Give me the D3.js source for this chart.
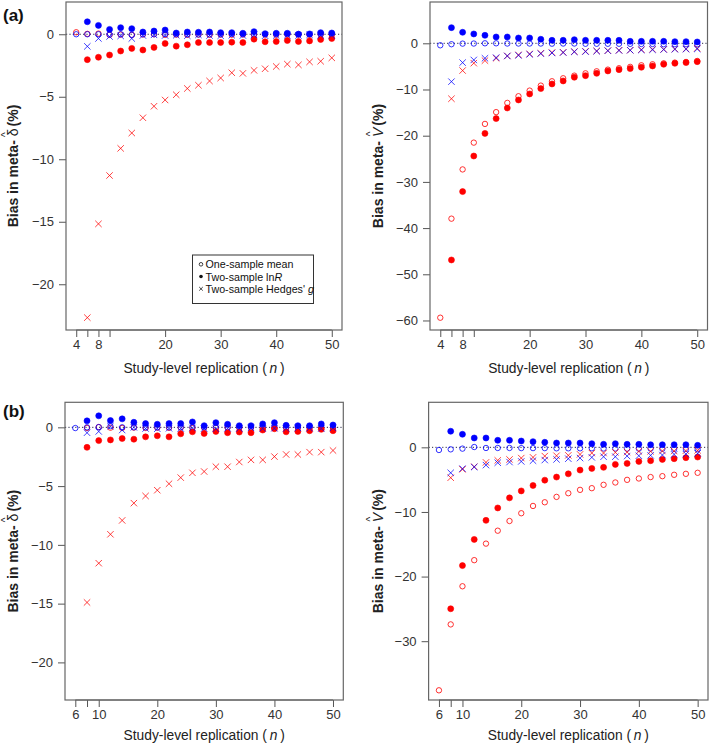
<!DOCTYPE html>
<html><head><meta charset="utf-8">
<script src="https://cdn.jsdelivr.net/npm/d3@7"></script>
<style>
body{margin:0;background:#fff;}
text{font-family:"Liberation Sans",Arial,sans-serif;}
</style></head>
<body><svg id="c" width="709" height="745"></svg>
<script>
// ---------- data ----------
const nA = [4,6,8,10,12,14,16,18,20,22,24,26,28,30,32,34,36,38,40,42,44,46,48,50];
const nB = [6,8,10,12,14,16,18,20,22,24,26,28,30,32,34,36,38,40,42,44,46,48,50];

const ticksA = [4,6,8,10,20,30,40,50];
const tickLabelsA = ["4","","8","","20","30","40","50"];
const ticksB = [6,8,10,20,30,40,50];
const tickLabelsB = ["6","","10","20","30","40","50"];
const yTicksDelta = [0,-5,-10,-15,-20];
const yTicksVa = [0,-10,-20,-30,-40,-50,-60];
const yTicksVb = [0,-10,-20,-30];

// (a) left: bias in meta-delta
const aD_oneRed  = [0.16,0.03,0.05,-0.05,-0.03,-0.05,-0.02,0,-0.05,-0.03,-0.05,-0.02,-0.05,-0.03,-0.04,-0.02,-0.05,-0.03,-0.04,-0.02,-0.03,-0.05,-0.02,-0.03];
const aD_oneBlue = [0,0,0,-0.02,0,-0.05,0,0,0.02,0,0,-0.02,0,0,0.02,0,0,0,0,0,0.02,0,0,0];
const aD_lnRRed  = [null,-2.03,-1.84,-1.66,-1.34,-1.13,-1.26,-1.05,-0.74,-0.95,-0.84,-0.66,-0.66,-0.66,-0.63,-0.66,-0.39,-0.6,-0.58,-0.5,-0.58,-0.53,-0.42,-0.34];
const aD_lnRBlue = [null,1.0,0.71,0.39,0.53,0.45,0.18,0.26,0.34,0.1,0.18,0.16,0.18,0.13,0.13,0.08,0.21,0.05,0.08,0.08,0,0.03,0.13,0.1];
const aD_gRed    = [null,-22.67,-15.17,-11.3,-9.13,-7.9,-6.68,-5.76,-5.26,-4.84,-4.34,-4.08,-3.74,-3.5,-3.08,-3.13,-2.89,-2.76,-2.58,-2.39,-2.45,-2.21,-2.16,-1.89];
const aD_gBlue   = [null,-0.97,-0.34,-0.18,-0.13,-0.34,-0.1,-0.05,-0.1,-0.08,-0.12,-0.05,-0.1,-0.12,-0.08,-0.1,-0.05,-0.12,-0.1,-0.08,-0.1,-0.05,-0.08,-0.1];

// (a) right: bias in meta-V
const aV_oneRed  = [-59.4,-37.96,-27.3,-21.5,-17.45,-14.9,-12.9,-11.46,-10.24,-9.16,-8.22,-7.57,-7.0,-6.5,-6.06,-5.7,-5.4,-5.1,-4.76,-4.54,-4.33,-4.18,-4.04,-3.82];
const aV_oneBlue = [-0.43,-0.2,-0.07,-0.05,0,0,-0.05,-0.05,-0.05,-0.05,-0.08,-0.05,-0.05,-0.1,-0.1,-0.1,-0.1,-0.12,-0.15,-0.15,-0.2,-0.2,-0.2,-0.2];
const aV_lnRRed  = [null,-46.9,-32.1,-24.4,-19.5,-16.3,-14.0,-12.26,-10.96,-9.8,-8.8,-8.15,-7.35,-7.0,-6.5,-5.98,-5.7,-5.48,-5.19,-4.9,-4.54,-4.33,-4.18,-3.97];
const aV_lnRBlue = [null,3.39,2.38,2.02,1.73,1.37,1.37,1.15,1.15,0.87,0.65,0.65,0.79,0.65,0.65,0.65,0.65,0.43,0.43,0.43,0.43,0.36,0.36,0.29];
const aV_gRed    = [null,-12.0,-5.9,-4.3,-3.75,-3.24,-2.74,-2.52,-2.3,-2.16,-2.0,-1.95,-1.8,-1.73,-1.66,-1.59,-1.5,-1.5,-1.37,-1.3,-1.3,-1.23,-1.2,-1.08];
const aV_gBlue   = [null,-8.3,-4.18,-3.6,-3.24,-3.1,-2.74,-2.6,-2.38,-2.23,-2.09,-2.0,-1.85,-1.8,-1.7,-1.6,-1.55,-1.5,-1.45,-1.4,-1.35,-1.3,-1.27,-1.23];

// (b) left: bias in meta-delta
const bD_oneRed  = [null,-0.05,0.02,-0.03,-0.05,-0.02,-0.05,-0.03,-0.04,-0.02,-0.05,-0.03,-0.04,-0.02,-0.03,-0.05,-0.02,-0.03,-0.04,-0.02,-0.03,-0.05,-0.02];
const bD_oneBlue = [-0.06,0,0.02,0.1,0,0,0,0,0,0,0,0,0,0,0,0,0,0,0,0,0,0,0];
const bD_lnRRed  = [null,-1.7,-1.13,-1.07,-0.95,-1.01,-0.81,-0.72,-0.81,-0.55,-0.38,-0.52,-0.35,-0.46,-0.4,-0.46,-0.23,-0.12,-0.38,-0.35,-0.29,-0.17,-0.29];
const bD_lnRBlue = [null,0.55,0.98,0.58,0.72,0.43,0.32,0.26,0.32,0.32,0.46,0.14,0.4,0.26,0.14,0.14,0.29,0.4,0.17,0.14,0.14,0.29,0.2];
const bD_gRed    = [null,-14.9,-11.56,-9.1,-7.92,-6.45,-5.84,-5.35,-4.8,-4.28,-3.87,-3.76,-3.35,-3.35,-2.95,-2.77,-2.77,-2.49,-2.31,-2.31,-2.11,-2.11,-1.97];
const bD_gBlue   = [null,-0.46,-0.35,0.1,-0.23,0,-0.1,-0.12,-0.08,-0.1,-0.05,-0.1,-0.12,-0.08,-0.1,-0.05,-0.1,-0.08,-0.1,-0.05,-0.08,-0.1,-0.05];

// (b) right: bias in meta-V
const bV_oneRed  = [-37.6,-27.4,-21.5,-17.46,-14.9,-12.9,-11.4,-10.2,-9.07,-8.5,-7.67,-7.1,-6.58,-6.32,-5.8,-5.44,-5.03,-4.82,-4.6,-4.46,-4.25,-4.1,-3.94];
const bV_oneBlue = [-0.41,-0.31,-0.2,0.05,-0.1,-0.1,-0.1,-0.12,-0.12,-0.12,-0.15,-0.15,-0.15,-0.15,-0.18,-0.18,-0.2,-0.2,-0.2,-0.22,-0.25,-0.25,-0.25];
const bV_lnRRed  = [null,-24.98,-18.3,-14.25,-11.3,-9.38,-7.82,-6.74,-5.9,-5.08,-4.6,-4.1,-3.52,-3.26,-3.1,-2.64,-2.49,-2.18,-2.07,-1.87,-1.76,-1.6,-1.5];
const bV_lnRBlue = [null,2.49,2.02,1.45,1.45,1.09,1.09,0.98,0.88,0.78,0.67,0.67,0.67,0.57,0.47,0.57,0.47,0.47,0.41,0.41,0.41,0.41,0.31];
const bV_gRed    = [null,-4.7,-3.4,-3.0,-2.33,-2.02,-1.87,-1.66,-1.55,-1.35,-1.3,-1.24,-1.09,-0.88,-0.88,-0.78,-0.73,-0.62,-0.62,-0.57,-0.57,-0.52,-0.47];
const bV_gBlue   = [null,-3.94,-3.3,-3.05,-2.75,-2.38,-2.28,-2.18,-2.07,-1.97,-1.87,-1.76,-1.66,-1.55,-1.45,-1.45,-1.35,-1.3,-1.24,-1.19,-1.09,-1.04,-0.93];

const legendLabels = ["One-sample mean","Two-sample ln","Two-sample Hedges' "];

// ---------- drawing ----------
const RED = "#ff0000", BLUE = "#0000ff";
const svg = d3.select("#c");

function panel(cfg){
  const x = d3.scaleLinear().domain(cfg.xd).range(cfg.xr);
  const y = d3.scaleLinear().domain(cfg.yd).range(cfg.yr);
  const g = svg.append("g");
  const [x0,x1] = cfg.xr, [y1,y0] = cfg.yr;

  // zero reference line
  g.append("line").attr("x1",x0).attr("x2",x1).attr("y1",y(0)).attr("y2",y(0))
    .attr("stroke","#2a2a4a").attr("stroke-width",1).attr("stroke-dasharray","1.2,2.2");

  // x axis
  const xa = d3.axisBottom(x).tickValues(cfg.xt).tickSize(7).tickPadding(3)
    .tickFormat((d,i)=>cfg.xtl[i]);
  const gx = g.append("g").attr("transform",`translate(0,${y1})`).call(xa);
  gx.select(".domain").remove();
  gx.append("line").attr("x1",x(cfg.xt[0])).attr("x2",x(cfg.xt[cfg.xt.length-1]))
    .attr("stroke","#555");
  gx.selectAll(".tick line").attr("stroke","#555");
  gx.selectAll(".tick text").attr("fill","#333").style("font-size","13px")
    .style("font-family","'Liberation Sans',Arial,sans-serif");

  // y axis
  const ya = d3.axisLeft(y).tickValues(cfg.yt).tickSize(7).tickPadding(5)
    .tickFormat(d=> d<0 ? "\u2212"+Math.abs(d) : String(d));
  const gy = g.append("g").attr("transform",`translate(${x0},0)`).call(ya);
  gy.select(".domain").remove();
  gy.selectAll(".tick line").attr("stroke","#555");
  gy.selectAll(".tick text").attr("fill","#333").style("font-size","13px")
    .style("font-family","'Liberation Sans',Arial,sans-serif");

  // box
  g.append("rect").attr("x",x0).attr("y",y0).attr("width",x1-x0).attr("height",y1-y0)
    .attr("fill","none").attr("stroke","#666").attr("stroke-width",1.2);

  const pts = (vals)=> cfg.n.map((n,i)=>({n, v: vals[i]})).filter(d=>d.v!==null);

  function circles(vals,color,filled){
    g.append("g").selectAll("circle").data(pts(vals)).join("circle")
      .attr("cx",d=>x(d.n)).attr("cy",d=>y(d.v)).attr("r",filled?3:2.7)
      .attr("fill",filled?color:"none").attr("stroke",color)
      .attr("stroke-width",filled?0.6:1).attr("opacity",filled?1:0.8);
  }
  function crosses(vals,color){
    const s=3.2;
    g.append("g").selectAll("path").data(pts(vals)).join("path")
      .attr("d",d=>{const cx=x(d.n), cy=y(d.v);
        return `M${cx-s},${cy-s}L${cx+s},${cy+s}M${cx-s},${cy+s}L${cx+s},${cy-s}`;})
      .attr("stroke",color).attr("stroke-width",1).attr("fill","none").attr("opacity",0.75);
  }
  const s = cfg.s;
  circles(s.oneRed,RED,false);
  circles(s.oneBlue,BLUE,false);
  circles(s.lnRRed,RED,true);
  circles(s.lnRBlue,BLUE,true);
  crosses(s.gRed,RED);
  crosses(s.gBlue,BLUE);

  // x label
  const xl = g.append("text").attr("x",(x0+x1)/2).attr("y",cfg.xly)
    .attr("text-anchor","middle").style("font-size","13.8px").attr("fill","#222");
  xl.append("tspan").text("Study-level replication (\u2009");
  xl.append("tspan").style("font-style","italic").text("n");
  xl.append("tspan").text("\u2009)");

  // y label
  const yl = g.append("text")
    .attr("transform",`translate(${cfg.ylx},${(y0+y1)/2}) rotate(-90)`)
    .attr("text-anchor","middle").style("font-size","14px").style("font-weight","bold").attr("fill","#222");
  yl.append("tspan").text("Bias in meta- ");
  if(cfg.sym==="d"){
    yl.append("tspan").style("font-weight","normal").text("\u03B4");
  } else {
    yl.append("tspan").style("font-weight","normal").style("font-style","italic").text("V");
  }
  yl.append("tspan").attr("dx",-8.5).attr("dy",-9).style("font-size","10px").style("font-weight","normal").text("^");
  yl.append("tspan").attr("dx",2).attr("dy",9).text(" (%)");

  if(cfg.tag){
    g.append("text").attr("x",3).attr("y",cfg.tagy).style("font-size","17px")
      .style("font-weight","bold").attr("fill","#111").text(cfg.tag);
  }
  return {g,x,y};
}

panel({n:nA, xd:[2.16,51.84], xr:[66,342], yd:[-23.66,2.58], yr:[330,2],
  xt:ticksA, xtl:tickLabelsA, yt:yTicksDelta, xly:373, ylx:18, sym:"d", tag:"(a)", tagy:21,
  s:{oneRed:aD_oneRed,oneBlue:aD_oneBlue,lnRRed:aD_lnRRed,lnRBlue:aD_lnRBlue,gRed:aD_gRed,gBlue:aD_gBlue}});
panel({n:nA, xd:[2.16,51.84], xr:[430,707.5], yd:[-62.06,8.94], yr:[330,2],
  xt:ticksA, xtl:tickLabelsA, yt:yTicksVa, xly:373, ylx:383, sym:"v",
  s:{oneRed:aV_oneRed,oneBlue:aV_oneBlue,lnRRed:aV_lnRRed,lnRBlue:aV_lnRBlue,gRed:aV_gRed,gBlue:aV_gBlue}});
panel({n:nB, xd:[4.24,51.76], xr:[65,343.3], yd:[-23.2,2.13], yr:[700,402.3],
  xt:ticksB, xtl:tickLabelsB, yt:yTicksDelta, xly:740, ylx:18, sym:"d", tag:"(b)", tagy:417,
  s:{oneRed:bD_oneRed,oneBlue:bD_oneBlue,lnRRed:bD_lnRRed,lnRBlue:bD_lnRBlue,gRed:bD_gRed,gBlue:bD_gBlue}});
panel({n:nB, xd:[4.24,51.76], xr:[428.6,708], yd:[-39.1,6.97], yr:[700,402.3],
  xt:ticksB, xtl:tickLabelsB, yt:yTicksVb, xly:740, ylx:383, sym:"v",
  s:{oneRed:bV_oneRed,oneBlue:bV_oneBlue,lnRRed:bV_lnRRed,lnRBlue:bV_lnRBlue,gRed:bV_gRed,gBlue:bV_gBlue}});

// legend in panel (a) left
const lg = svg.append("g");
lg.append("rect").attr("x",192.5).attr("y",255).attr("width",121).attr("height",48.5)
  .attr("fill","#fff").attr("stroke","#333").attr("stroke-width",1);
const rows = [268.3,280.5,292.8];
lg.append("circle").attr("cx",201).attr("cy",rows[0]-4).attr("r",1.8).attr("fill","none").attr("stroke","#111").attr("stroke-width",0.8);
lg.append("circle").attr("cx",201).attr("cy",rows[1]-4).attr("r",1.8).attr("fill","#111");
lg.append("path").attr("d",`M199.2,${rows[2]-5.8}L202.8,${rows[2]-2.2}M199.2,${rows[2]-2.2}L202.8,${rows[2]-5.8}`).attr("stroke","#111").attr("stroke-width",0.8);
const lt = (i)=> lg.append("text").attr("x",205.5).attr("y",rows[i]).style("font-size","10.7px").attr("fill","#111");
lt(0).text(legendLabels[0]);
const t1 = lt(1); t1.append("tspan").text(legendLabels[1]); t1.append("tspan").style("font-style","italic").text("R");
const t2 = lt(2); t2.append("tspan").text(legendLabels[2]); t2.append("tspan").style("font-style","italic").text("g");
</script></body></html>
